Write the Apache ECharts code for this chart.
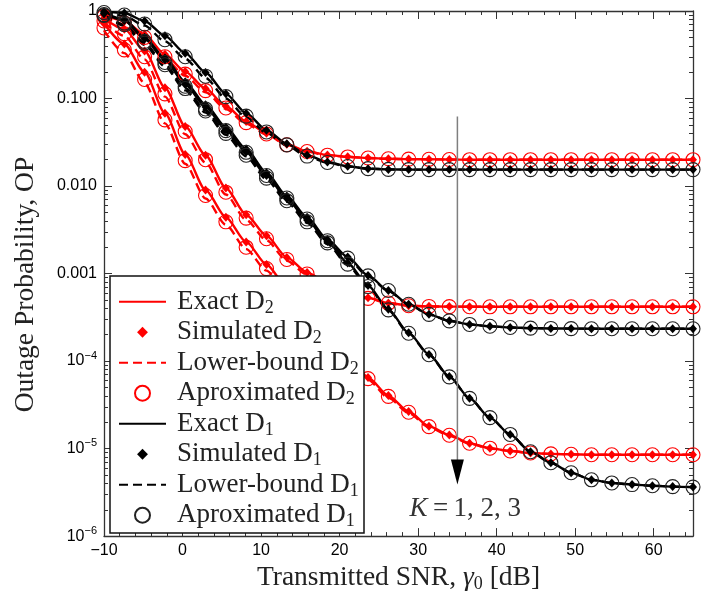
<!DOCTYPE html>
<html><head><meta charset="utf-8">
<script src="https://cdn.jsdelivr.net/npm/echarts@6/dist/echarts.min.js"></script>
<style>html,body{margin:0;padding:0;background:#fff}#c{width:709px;height:598px}</style>
</head><body><div id="c"></div>
<script>
// ---- data ----
const snr = [-10, -7.41, -4.83, -2.24, 0.34, 2.93, 5.52, 8.10, 10.69, 13.28, 15.86, 18.45, 21.03, 23.62, 26.21,
  28.79, 31.38, 33.97, 36.55, 39.14, 41.72, 44.31, 46.90, 49.48, 52.07, 54.66, 57.24, 59.83, 62.41, 65];

// D2 (red)
const exactD2K1 = [0.90, 0.77, 0.54, 0.32, 0.203, 0.13, 0.0815, 0.0545, 0.0402, 0.0300, 0.0250, 0.0226, 0.0216, 0.0209, 0.0205, 0.0203, 0.0202, 0.0201, 0.0200, 0.0200, 0.0200, 0.0200, 0.0200, 0.0200, 0.0200, 0.0200, 0.0200, 0.0200, 0.0200, 0.0200];
const lowerD2K1 = [0.86, 0.70, 0.48, 0.285, 0.182, 0.118, 0.076, 0.0515, 0.0388, 0.0294, 0.0247, 0.0224, 0.0215, 0.0209, 0.0205, 0.0203, 0.0202, 0.0201, 0.0200, 0.0200, 0.0200, 0.0200, 0.0200, 0.0200, 0.0200, 0.0200, 0.0200, 0.0200, 0.0200, 0.0200];
const approxD2K1 = [0.87, 0.73, 0.50, 0.30, 0.19, 0.123, 0.078, 0.053, 0.0393, 0.0296, 0.0248, 0.0225, 0.0215, 0.0209, 0.0205, 0.0203, 0.0202, 0.0201, 0.0200, 0.0200, 0.0200, 0.0200, 0.0200, 0.0200, 0.0200, 0.0200, 0.0200, 0.0200, 0.0200, 0.0200];

const exactD2K2 = [0.82, 0.62, 0.35, 0.133, 0.048, 0.0225, 0.0095, 0.0047, 0.0027, 0.00153, 0.00103, 7.8e-4, 6.2e-4, 5.3e-4, 4.62e-4, 4.30e-4, 4.22e-4, 4.19e-4, 4.18e-4, 4.17e-4, 4.17e-4, 4.17e-4, 4.17e-4, 4.17e-4, 4.17e-4, 4.17e-4, 4.17e-4, 4.17e-4, 4.17e-4, 4.17e-4];
const lowerD2K2 = [0.74, 0.52, 0.28, 0.105, 0.039, 0.0185, 0.0080, 0.0041, 0.0024, 0.0014, 9.7e-4, 7.5e-4, 6.0e-4, 5.2e-4, 4.58e-4, 4.28e-4, 4.21e-4, 4.19e-4, 4.18e-4, 4.17e-4, 4.17e-4, 4.17e-4, 4.17e-4, 4.17e-4, 4.17e-4, 4.17e-4, 4.17e-4, 4.17e-4, 4.17e-4, 4.17e-4];
const approxD2K2 = [0.77, 0.55, 0.30, 0.113, 0.042, 0.020, 0.0085, 0.0043, 0.0025, 0.00145, 9.9e-4, 7.6e-4, 6.1e-4, 5.2e-4, 4.60e-4, 4.29e-4, 4.21e-4, 4.19e-4, 4.18e-4, 4.17e-4, 4.17e-4, 4.17e-4, 4.17e-4, 4.17e-4, 4.17e-4, 4.17e-4, 4.17e-4, 4.17e-4, 4.17e-4, 4.17e-4];

const exactD2K3 = [0.72, 0.42, 0.20, 0.068, 0.023, 0.0090, 0.0044, 0.0023, 0.00127, 7.0e-4, 3.85e-4, 2.1e-4, 1.17e-4, 6.5e-5, 4.03e-5, 2.65e-5, 1.8e-5, 1.43e-5, 1.15e-5, 1.01e-5, 9.4e-6, 8.9e-6, 8.7e-6, 8.6e-6, 8.5e-6, 8.5e-6, 8.5e-6, 8.5e-6, 8.5e-6, 8.5e-6];
const lowerD2K3 = [0.60, 0.33, 0.15, 0.052, 0.018, 0.0072, 0.0036, 0.0019, 0.00108, 6.0e-4, 3.4e-4, 1.9e-4, 1.08e-4, 6.1e-5, 3.8e-5, 2.55e-5, 1.75e-5, 1.4e-5, 1.14e-5, 1.0e-5, 9.4e-6, 8.9e-6, 8.7e-6, 8.6e-6, 8.5e-6, 8.5e-6, 8.5e-6, 8.5e-6, 8.5e-6, 8.5e-6];
const approxD2K3 = [0.64, 0.36, 0.165, 0.057, 0.0195, 0.0078, 0.0039, 0.0020, 0.00114, 6.4e-4, 3.6e-4, 2.0e-4, 1.12e-4, 6.3e-5, 3.95e-5, 2.6e-5, 1.78e-5, 1.42e-5, 1.15e-5, 1.01e-5, 9.4e-6, 8.9e-6, 8.7e-6, 8.6e-6, 8.5e-6, 8.5e-6, 8.5e-6, 8.5e-6, 8.5e-6, 8.5e-6];

// D1 (black)
const exactD1K1 = [0.99, 0.95, 0.77, 0.52, 0.33, 0.198, 0.113, 0.068, 0.0435, 0.0305, 0.0225, 0.0188, 0.0168, 0.0158, 0.0155, 0.0154, 0.0154, 0.0154, 0.0154, 0.0154, 0.0154, 0.0154, 0.0154, 0.0154, 0.0154, 0.0154, 0.0154, 0.0154, 0.0154, 0.0154];
const lowerD1K1 = [0.95, 0.88, 0.68, 0.45, 0.285, 0.172, 0.100, 0.061, 0.0405, 0.0290, 0.0218, 0.0185, 0.0167, 0.0158, 0.0155, 0.0154, 0.0154, 0.0154, 0.0154, 0.0154, 0.0154, 0.0154, 0.0154, 0.0154, 0.0154, 0.0154, 0.0154, 0.0154, 0.0154, 0.0154];
const approxD1K1 = [0.96, 0.90, 0.71, 0.47, 0.30, 0.180, 0.105, 0.063, 0.0415, 0.0295, 0.0220, 0.0186, 0.0167, 0.0158, 0.0155, 0.0154, 0.0154, 0.0154, 0.0154, 0.0154, 0.0154, 0.0154, 0.0154, 0.0154, 0.0154, 0.0154, 0.0154, 0.0154, 0.0154, 0.0154];

const exactD1K2 = [0.95, 0.80, 0.50, 0.29, 0.155, 0.085, 0.047, 0.0265, 0.0142, 0.0077, 0.0044, 0.00245, 0.00155, 9.5e-4, 6.4e-4, 4.47e-4, 3.42e-4, 2.88e-4, 2.62e-4, 2.5e-4, 2.42e-4, 2.38e-4, 2.36e-4, 2.35e-4, 2.34e-4, 2.34e-4, 2.34e-4, 2.34e-4, 2.34e-4, 2.34e-4];
const lowerD1K2 = [0.90, 0.70, 0.43, 0.245, 0.132, 0.073, 0.041, 0.0235, 0.0128, 0.0071, 0.0041, 0.00232, 0.00148, 9.3e-4, 6.3e-4, 4.44e-4, 3.41e-4, 2.88e-4, 2.62e-4, 2.5e-4, 2.42e-4, 2.38e-4, 2.36e-4, 2.35e-4, 2.34e-4, 2.34e-4, 2.34e-4, 2.34e-4, 2.34e-4, 2.34e-4];
const approxD1K2 = [0.91, 0.73, 0.45, 0.258, 0.138, 0.076, 0.043, 0.0243, 0.0132, 0.0073, 0.0042, 0.00237, 0.00150, 9.4e-4, 6.4e-4, 4.46e-4, 3.42e-4, 2.88e-4, 2.62e-4, 2.5e-4, 2.42e-4, 2.38e-4, 2.36e-4, 2.35e-4, 2.34e-4, 2.34e-4, 2.34e-4, 2.34e-4, 2.34e-4, 2.34e-4];

const exactD1K3 = [0.93, 0.78, 0.48, 0.275, 0.145, 0.080, 0.044, 0.0245, 0.0132, 0.0072, 0.0041, 0.00232, 0.00132, 7.3e-4, 3.9e-4, 2.1e-4, 1.19e-4, 6.65e-5, 3.76e-5, 2.26e-5, 1.45e-5, 9.2e-6, 6.9e-6, 5.3e-6, 4.4e-6, 4.05e-6, 3.88e-6, 3.76e-6, 3.68e-6, 3.63e-6];
const lowerD1K3 = [0.88, 0.68, 0.41, 0.232, 0.124, 0.069, 0.0385, 0.0218, 0.0119, 0.0066, 0.0038, 0.00218, 0.00126, 7.0e-4, 3.8e-4, 2.07e-4, 1.18e-4, 6.6e-5, 3.75e-5, 2.26e-5, 1.45e-5, 9.2e-6, 6.9e-6, 5.3e-6, 4.4e-6, 4.05e-6, 3.88e-6, 3.76e-6, 3.68e-6, 3.63e-6];
const approxD1K3 = [0.89, 0.70, 0.43, 0.243, 0.130, 0.072, 0.040, 0.0225, 0.0123, 0.0068, 0.0039, 0.00224, 0.00128, 7.1e-4, 3.85e-4, 2.08e-4, 1.18e-4, 6.6e-5, 3.75e-5, 2.26e-5, 1.45e-5, 9.2e-6, 6.9e-6, 5.3e-6, 4.4e-6, 4.05e-6, 3.88e-6, 3.76e-6, 3.68e-6, 3.63e-6];

// axis ticks
const xMajorTicks = [-10, 0, 10, 20, 30, 40, 50, 60];
const xMinorTicks = [-8, -6, -4, -2, 2, 4, 6, 8, 12, 14, 16, 18, 22, 24, 26, 28, 32, 34, 36, 38, 42, 44, 46, 48, 52, 54, 56, 58, 62, 64];
const yMajorTicks = [1e-6, 1e-5, 1e-4, 1e-3, 1e-2, 1e-1, 1];
const yMinorTicks = [];
for (let e = -6; e < 0; e++) for (let m = 2; m <= 9; m++) yMinorTicks.push(m * Math.pow(10, e));

// annotation (arrow K = 1, 2, 3)
const arrowX = [35];
const arrowY = [0.0625, 7.2e-6];
const arrowHeadY = [5.4e-6];
const kLabelPos = [36, 2.04e-6];

// ---- chart ----
const RED = '#ff0000', BLACK = '#000000';
const SERIF = "'Liberation Serif', 'DejaVu Serif', serif";
const SANS = "'Liberation Sans', Arial, sans-serif";
const pair = ys => snr.map((x, i) => [x, ys[i]]);

function lineS(name, ys, color, dashed) {
  return { type: 'line', name, data: pair(ys), symbol: 'none', smooth: 0.25, smoothMonotone: 'x',
    lineStyle: { color, width: 2.4, type: dashed ? [9, 5] : 'solid' }, itemStyle: { color },
    z: 2, silent: true, animation: false };
}
function simS(name, ys, color) {
  return { type: 'scatter', name, data: pair(ys), symbol: 'diamond', symbolSize: [8, 9],
    itemStyle: { color, opacity: 1 }, z: 3, silent: true, animation: false };
}
function apxS(name, ys, color) {
  return { type: 'scatter', name, data: pair(ys), symbol: 'circle', symbolSize: 14,
    itemStyle: { color: 'rgba(0,0,0,0)', borderColor: color, borderWidth: 1.1, opacity: 1 }, z: 3, silent: true, animation: false };
}

const series = [];
[exactD2K1, exactD2K2, exactD2K3].forEach(a => series.push(lineS('Exact D2', a, RED, false)));
[lowerD2K1, lowerD2K2, lowerD2K3].forEach(a => series.push(lineS('Lower-bound D2', a, RED, true)));
[exactD2K1, exactD2K2, exactD2K3].forEach(a => series.push(simS('Simulated D2', a, RED)));
[approxD2K1, approxD2K2, approxD2K3].forEach(a => series.push(apxS('Aproximated D2', a, RED)));
[exactD1K1, exactD1K2, exactD1K3].forEach(a => series.push(lineS('Exact D1', a, BLACK, false)));
[lowerD1K1, lowerD1K2, lowerD1K3].forEach(a => series.push(lineS('Lower-bound D1', a, BLACK, true)));
[exactD1K1, exactD1K2, exactD1K3].forEach(a => series.push(simS('Simulated D1', a, BLACK)));
[approxD1K1, approxD1K2, approxD1K3].forEach(a => series.push(apxS('Aproximated D1', a, '#222')));

// arrow annotation
series.push({ type: 'line', name: 'arrowLine', data: arrowY.map(y => [arrowX[0], y]), symbol: 'none',
  lineStyle: { color: '#7f7f7f', width: 1.5 }, z: 5, silent: true, animation: false });
series.push({ type: 'scatter', name: 'arrowHead', data: arrowHeadY.map(y => [arrowX[0], y]),
  symbol: 'path://M0,0L13,0L6.5,25Z', symbolSize: [13, 25], itemStyle: { color: '#000', opacity: 1 }, z: 5, silent: true, animation: false });
series.push({ type: 'scatter', name: 'kLabel', data: [kLabelPos], symbolSize: 1, itemStyle: { color: 'rgba(0,0,0,0)', opacity: 1 },
  label: { show: true, position: 'inside', formatter: '{k|K}\u2009=\u20091, 2, 3', color: '#333',
    textBorderWidth: 0, fontFamily: SERIF, fontSize: 27,
    rich: { k: { fontFamily: SERIF, fontSize: 27, fontStyle: 'italic', color: '#333', textBorderWidth: 0 } } },
  z: 5, silent: true, animation: false });

const sub = { fontFamily: SERIF, fontSize: 18, lineHeight: 18, verticalAlign: 'bottom', color: '#222' };
const legendNames = ['Exact D2', 'Simulated D2', 'Lower-bound D2', 'Aproximated D2', 'Exact D1', 'Simulated D1', 'Lower-bound D1', 'Aproximated D1'];
const diamondIcon = 'path://M0,-9L0,-9M0,9L0,9M0,-6.5L6.5,0L0,6.5L-6.5,0Z';
function legendItem(n) {
  if (n.indexOf('Simulated') === 0) return { name: n, icon: diamondIcon };
  if (n.indexOf('Aproximated') === 0) return { name: n };
  return { name: n, itemStyle: { opacity: 0 } };
}

const xBase = { type: 'value', min: -10, max: 65, splitLine: { show: false } };
const yBase = { type: 'log', logBase: 10, min: 1e-6, max: 1, splitLine: { show: false } };
const frame = { show: true, onZero: false, lineStyle: { color: '#333', width: 1.3 } };
const tickStyle = { color: '#333', width: 1 };

const option = {
  animation: false,
  backgroundColor: '#fff',
  grid: { left: 104, right: 16, top: 10, bottom: 56, containLabel: false },
  xAxis: [
    { ...xBase, position: 'bottom', axisLine: frame,
      axisTick: { show: true, inside: true, length: 8, customValues: xMajorTicks, lineStyle: tickStyle },
      axisLabel: { show: true, customValues: xMajorTicks, margin: 6, fontFamily: SANS, fontSize: 16, color: '#000',
        formatter: v => (v < 0 ? '\u2212' + Math.abs(v) : String(v)) },
      name: 'Transmitted SNR, {g|\u03b3}{s|0} [dB]', nameLocation: 'middle', nameGap: 21,
      nameTextStyle: { fontFamily: SERIF, fontSize: 27.5, color: '#222', lineHeight: 30,
        rich: { g: { fontFamily: SERIF, fontSize: 27.5, fontStyle: 'italic', color: '#222', lineHeight: 30 },
                s: { fontFamily: SERIF, fontSize: 18, color: '#222', lineHeight: 18, verticalAlign: 'bottom' } } } },
    { ...xBase, position: 'bottom', axisLine: { show: false, onZero: false },
      axisTick: { show: true, inside: true, length: 4, customValues: xMinorTicks, lineStyle: tickStyle },
      axisLabel: { show: false } },
    { ...xBase, position: 'top', axisLine: frame,
      axisTick: { show: true, inside: true, length: 8, customValues: xMajorTicks, lineStyle: tickStyle },
      axisLabel: { show: false } },
    { ...xBase, position: 'top', axisLine: { show: false, onZero: false },
      axisTick: { show: true, inside: true, length: 4, customValues: xMinorTicks, lineStyle: tickStyle },
      axisLabel: { show: false } }
  ],
  yAxis: [
    { ...yBase, position: 'left', axisLine: frame,
      axisTick: { show: true, inside: true, length: 8, customValues: yMajorTicks, lineStyle: tickStyle },
      axisLabel: { show: true, customValues: yMajorTicks, margin: 7, fontFamily: SANS, fontSize: 16, color: '#000', lineHeight: 22,
        formatter: v => { const e = Math.round(Math.log10(v));
          if (e === 0) return '1';
          if (e >= -3) return Math.pow(10, e).toFixed(3);
          return '10{sup|\u2212' + (-e) + '}'; },
        rich: { sup: { fontFamily: SANS, fontSize: 11, lineHeight: 10, verticalAlign: 'top', color: '#000' } } },
      name: 'Outage Probability, OP', nameLocation: 'middle', nameGap: 64,
      nameTextStyle: { fontFamily: SERIF, fontSize: 27.5, color: '#222', padding: [0, 22, 0, 0] } },
    { ...yBase, position: 'left', axisLine: { show: false, onZero: false },
      axisTick: { show: true, inside: true, length: 4, customValues: yMinorTicks, lineStyle: tickStyle },
      axisLabel: { show: false } },
    { ...yBase, position: 'right', axisLine: frame,
      axisTick: { show: true, inside: true, length: 8, customValues: yMajorTicks, lineStyle: tickStyle },
      axisLabel: { show: false } },
    { ...yBase, position: 'right', axisLine: { show: false, onZero: false },
      axisTick: { show: true, inside: true, length: 4, customValues: yMinorTicks, lineStyle: tickStyle },
      axisLabel: { show: false } }
  ],
  graphic: { elements: [ { type: 'rect', z: 20, shape: { x: 110, y: 276, width: 254, height: 257 },
    style: { fill: '#fff', stroke: '#111', lineWidth: 1.5 }, silent: true } ] },
  legend: {
    z: 30, orient: 'vertical', left: 118, top: 286.5, padding: 0, itemGap: 0,
    itemWidth: 47, itemHeight: 15, selectedMode: false,
    data: legendNames.map(legendItem),
    formatter: n => '{t|' + n.slice(0, -1) + '}{sub|' + n.slice(-1) + '}',
    textStyle: { fontFamily: SERIF, fontSize: 27, lineHeight: 30.5, color: '#222',
      rich: { t: { fontFamily: SERIF, fontSize: 27, lineHeight: 30.5, color: '#222', padding: [0, 0, 0, 6] }, sub } }
  },
  series
};
const chart = echarts.init(document.getElementById('c'), null, { renderer: 'canvas' });
chart.setOption(option);
</script></body></html>
